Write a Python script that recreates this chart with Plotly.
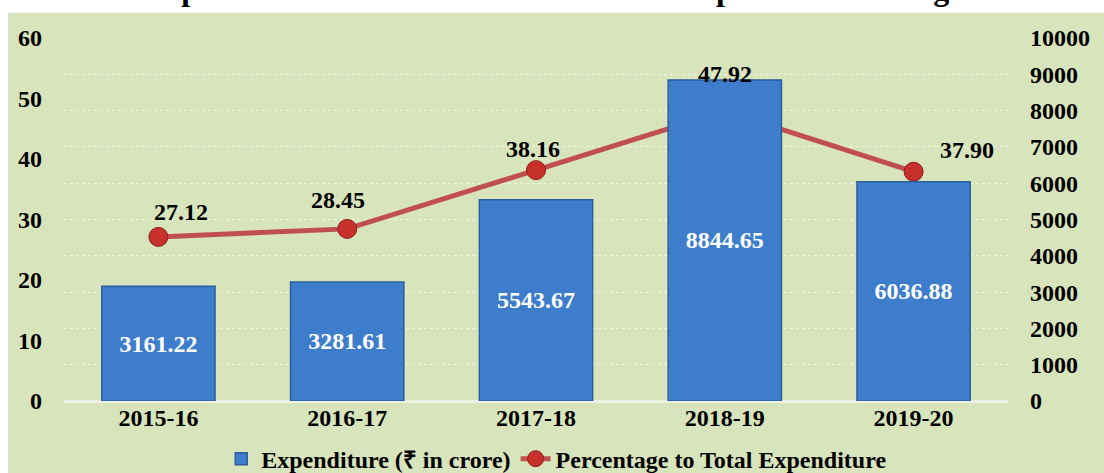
import plotly.graph_objects as go

# --- DATA ---
years = ["2015-16", "2016-17", "2017-18", "2018-19", "2019-20"]
expenditure = [3161.22, 3281.61, 5543.67, 8844.65, 6036.88]
percentage = [27.12, 28.45, 38.16, 47.92, 37.90]
left_ticks = [0, 10, 20, 30, 40, 50, 60]
right_ticks = [0, 1000, 2000, 3000, 4000, 5000, 6000, 7000, 8000, 9000, 10000]

TITLE = "Chart 4.4: Operation of Minor Head 800 - Other Expenditure during 2015-20"
FONT = "Liberation Serif, Times New Roman, serif"
BG = "#D8E4BC"
FS = 24

# label offsets for the percentage labels (pixels)
label_dx = [23, -9, -3, 0, 53]
label_dy = [25, 29, 21, 37, 22]

fig = go.Figure()

# bars on the right-hand axis
fig.add_trace(go.Bar(
    x=years, y=expenditure,
    name="Expenditure (\u20b9 in crore)",
    yaxis="y2",
    width=0.6,
    marker=dict(color="#3D7DCB", line=dict(color="#2B5E9F", width=1.5)),
    text=[f"<b>{v:.2f}</b>" for v in expenditure],
    textposition="inside",
    insidetextanchor="middle",
    textfont=dict(family=FONT, size=FS, color="white"),
    textangle=0,
    hoverinfo="skip",
))

# percentage line on the left axis
fig.add_trace(go.Scatter(
    x=years, y=percentage,
    name="Percentage to Total Expenditure",
    mode="lines+markers",
    line=dict(color="#C0504D", width=5),
    marker=dict(size=19, color="#C8302C", line=dict(color="#8C1F1C", width=1)),
))

for yr, p, dx, dy in zip(years, percentage, label_dx, label_dy):
    fig.add_annotation(
        x=yr, y=p, xref="x", yref="y",
        text=f"<b>{p:.2f}</b>", showarrow=False,
        xshift=dx, yshift=dy,
        font=dict(family=FONT, size=FS, color="black"),
    )

# cut-off title sitting in the white strip
fig.add_annotation(
    x=0.5, y=1.08, xref="paper", yref="paper",
    xanchor="center", yanchor="bottom",
    text=f"<b>{TITLE}</b>", showarrow=False,
    font=dict(family=FONT, size=32, color="black"),
)

# green chart area
fig.add_shape(
    type="rect", xref="paper", yref="paper",
    x0=-0.0593, x1=1.102, y0=-0.2, y1=1.0689,
    fillcolor=BG, line=dict(width=0), layer="below",
)

fig.update_layout(
    width=1104, height=473,
    paper_bgcolor="white",
    plot_bgcolor="rgba(0,0,0,0)",
    margin=dict(l=64, r=96, t=38, b=72, autoexpand=False),
    font=dict(family=FONT, size=FS, color="black"),
    showlegend=True,
    legend=dict(
        orientation="h", x=0.522, xanchor="center", y=-0.098, yanchor="top",
        font=dict(family=FONT, size=FS, color="black"),
        bgcolor="rgba(0,0,0,0)", itemwidth=30,
    ),
    bargap=0.4,
    xaxis=dict(
        tickfont=dict(family=FONT, size=FS, color="black", weight="bold"),
        showgrid=False, ticks="", showline=False,
    ),
    yaxis=dict(
        range=[0, 60], tickvals=left_ticks,
        tickfont=dict(family=FONT, size=FS, color="black", weight="bold"),
        showgrid=False, zeroline=False, ticks="", ticklabelstandoff=21,
    ),
    yaxis2=dict(
        range=[0, 10000], tickvals=right_ticks, ticktext=[str(t) for t in right_ticks],
        overlaying="y", side="right",
        tickfont=dict(family=FONT, size=FS, color="black", weight="bold"),
        showgrid=True, gridcolor="rgba(255,255,255,0.6)", griddash="dot", gridwidth=1,
        zeroline=True, zerolinecolor="#EEF2E4", zerolinewidth=3,
        ticks="", ticklabelstandoff=21,
    ),
)

# legend labels in bold
for tr in fig.data:
    tr.name = f"<b>{tr.name}</b>"

# drop the default page margin so the figure sits at the window's corner
fig.write_html(
    "out.html",
    config={"displayModeBar": False},
    post_script="document.body.style.margin='0';",
)
